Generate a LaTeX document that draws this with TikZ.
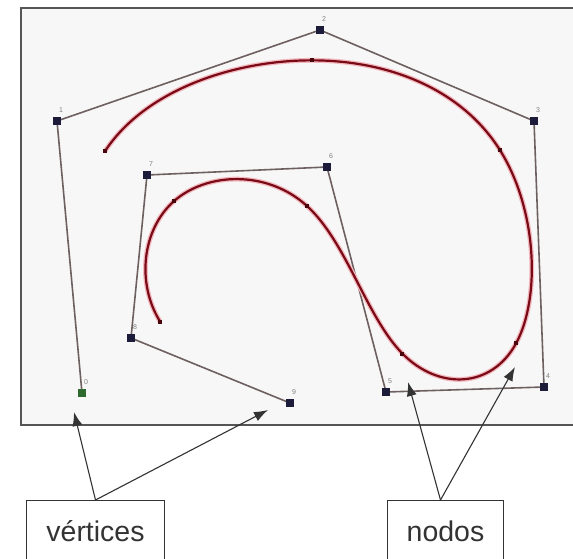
\documentclass[tikz,border=0pt]{standalone}
\usepackage{fontspec}
\setmainfont{Liberation Sans}
\usetikzlibrary{calc,arrows.meta}
\definecolor{framefill}{HTML}{F7F7F7}
\definecolor{framedraw}{HTML}{555555}
\definecolor{polycol}{HTML}{6E6060}
\definecolor{curvecol}{HTML}{7A0A16}
\definecolor{halocol}{HTML}{F2B8BE}
\definecolor{vertcol}{HTML}{1C1C3A}
\definecolor{startcol}{HTML}{2E6A2E}
\definecolor{inkcol}{HTML}{333333}
\begin{document}
\begin{tikzpicture}[x=1pt,y=-1pt,
  frame/.style={fill=framefill,draw=framedraw,line width=1.4pt},
  poly/.style={draw=polycol,line width=1.6pt,line join=round},
  curve/.style={draw=curvecol,line width=2.2pt,preaction={draw=halocol,line width=4.8pt}},
  vsq/.style={fill=vertcol,minimum size=8pt,inner sep=0pt,rectangle},
  knot/.style={fill=curvecol!60!black,minimum size=4pt,inner sep=0pt,rectangle},
  vlabel/.style={font=\fontsize{7}{7}\selectfont,text=gray,inner sep=0pt},
  labelbox/.style={draw=inkcol,line width=1pt,text=inkcol,font=\fontsize{28.5}{30}\selectfont,minimum height=62pt,inner sep=0pt,anchor=north west},
  arrow/.style={draw=inkcol,line width=1.1pt,-{Latex[length=14pt,width=10pt]}}]
\useasboundingbox (0,0) rectangle (573,558);
\clip (0,0) rectangle (573,558);
\fill[white] (0,0) rectangle (573,558);
\draw[frame] (21,8) rectangle (590,425);
% control vertices
\coordinate (P0) at (82,393);
\coordinate (P1) at (57,121);
\coordinate (P2) at (320,30);
\coordinate (P3) at (534,121);
\coordinate (P4) at (544,387);
\coordinate (P5) at (386,392);
\coordinate (P6) at (327,167);
\coordinate (P7) at (147,175);
\coordinate (P8) at (131,338);
\coordinate (P9) at (290,403);
\draw[poly] (P0) -- (P1) -- (P2) -- (P3) -- (P4) -- (P5) -- (P6) -- (P7) -- (P8) -- (P9);
% knots of the uniform cubic B-spline
\coordinate (K1) at ($2/3*(P1)+1/6*(P0)+1/6*(P2)$);
\coordinate (K2) at ($2/3*(P2)+1/6*(P1)+1/6*(P3)$);
\coordinate (K3) at ($2/3*(P3)+1/6*(P2)+1/6*(P4)$);
\coordinate (K4) at ($2/3*(P4)+1/6*(P3)+1/6*(P5)$);
\coordinate (K5) at ($2/3*(P5)+1/6*(P4)+1/6*(P6)$);
\coordinate (K6) at ($2/3*(P6)+1/6*(P5)+1/6*(P7)$);
\coordinate (K7) at ($2/3*(P7)+1/6*(P6)+1/6*(P8)$);
\coordinate (K8) at ($2/3*(P8)+1/6*(P7)+1/6*(P9)$);
\draw[curve] (K1)
  .. controls ($(P1)!1/3!(P2)$) and ($(P1)!2/3!(P2)$) .. (K2)
  .. controls ($(P2)!1/3!(P3)$) and ($(P2)!2/3!(P3)$) .. (K3)
  .. controls ($(P3)!1/3!(P4)$) and ($(P3)!2/3!(P4)$) .. (K4)
  .. controls ($(P4)!1/3!(P5)$) and ($(P4)!2/3!(P5)$) .. (K5)
  .. controls ($(P5)!1/3!(P6)$) and ($(P5)!2/3!(P6)$) .. (K6)
  .. controls ($(P6)!1/3!(P7)$) and ($(P6)!2/3!(P7)$) .. (K7)
  .. controls ($(P7)!1/3!(P8)$) and ($(P7)!2/3!(P8)$) .. (K8);
\foreach \k in {1,...,8} {\node[knot] (kn\k) at (K\k) {};}
% vertex markers and their tiny labels
\node[vsq,fill=startcol] (v0) at (P0) {};
\foreach \v in {1,...,9} {\node[vsq] (v\v) at (P\v) {};}
\foreach \v in {0,...,9} {\node[vlabel] (lab\v) at ($(P\v)+(4,-11)$) {\v};}
% explanation boxes
\node[labelbox,minimum width=138pt] (vert) at (26,500) {v\'ertices};
\node[labelbox,minimum width=116pt] (nod) at (387,500) {nodos};
\coordinate (tv0) at (74,412);
\coordinate (tv9) at (268,410);
\coordinate (tn1) at (408,382);
\coordinate (tn2) at (515,367);
\draw[arrow] (vert.north) -- (tv0);
\draw[arrow] (vert.north) -- (tv9);
\draw[arrow] ([xshift=-5pt]nod.north) -- (tn1);
\draw[arrow] ([xshift=-5pt]nod.north) -- (tn2);
\end{tikzpicture}
\end{document}
